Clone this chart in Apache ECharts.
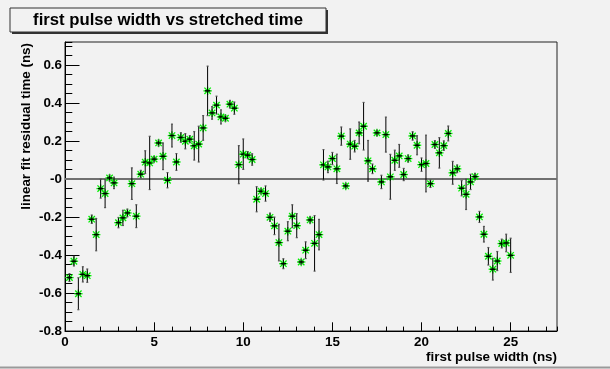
<!DOCTYPE html>
<html><head><meta charset="utf-8">
<script src="https://cdn.jsdelivr.net/npm/echarts@6/dist/echarts.min.js"></script>
<style>html,body{margin:0;padding:0;background:#f2f2f2;}#c{width:610px;height:369px;}</style>
</head><body><div id="c"></div>
<script>
const titleText = 'first pulse width vs stretched time';
const xTitle = 'first pulse width (ns)';
const yTitle = 'linear fit residual time (ns)';
const xTickLabels = ['0', '5', '10', '15', '20', '25'];
const yTickLabels = ['-0.8', '-0.6', '-0.4', '-0.2', '-0', '0.2', '0.4', '0.6'];

const xVals = [0.25,0.5,0.75,1.0,1.25,1.5,1.75,2.0,2.25,2.5,2.75,3.0,3.25,3.5,3.75,4.0,4.25,4.5,4.75,5.0,
  5.25,5.5,5.75,6.0,6.25,6.5,6.75,7.0,7.25,7.5,7.75,8.0,8.25,8.5,8.75,9.0,9.25,9.5,9.75,10.0,
  10.25,10.5,10.75,11.0,11.25,11.5,11.75,12.0,12.25,12.5,12.75,13.0,13.25,13.5,13.75,14.0,14.25,14.5,14.75,15.0,
  15.25,15.5,15.75,16.0,16.25,16.5,16.75,17.0,17.25,17.5,17.75,18.0,18.25,18.5,18.75,19.0,19.25,19.5,19.75,20.0,
  20.25,20.5,20.75,21.0,21.25,21.5,21.75,22.0,22.25,22.5,22.75,23.0,23.25,23.5,23.75,24.0,24.25,24.5,24.75,25.0];
const yVals = [-0.519,-0.433,-0.604,-0.502,-0.509,-0.212,-0.293,-0.051,-0.077,0.005,-0.021,-0.230,-0.205,-0.179,-0.025,-0.196,0.025,0.088,0.084,0.104,
  0.189,0.119,-0.007,0.228,0.089,0.218,0.198,0.209,0.174,0.183,0.268,0.463,0.347,0.388,0.326,0.319,0.393,0.372,0.075,0.130,
  0.125,0.102,-0.107,-0.065,-0.077,-0.202,-0.247,-0.335,-0.446,-0.275,-0.196,-0.246,-0.437,-0.375,-0.216,-0.339,-0.293,0.074,0.063,0.107,
  0.053,0.225,-0.037,0.183,0.172,0.242,0.277,0.095,0.053,0.242,-0.016,0.233,0.011,0.098,0.121,0.023,0.107,0.226,0.177,0.075,
  0.081,-0.025,0.181,0.137,0.175,0.239,0.032,0.053,-0.049,-0.081,-0.016,0.012,-0.200,-0.291,-0.407,-0.475,-0.432,-0.340,-0.337,-0.402];
const yErrs = [0.020,0.025,0.084,0.040,0.035,0.022,0.085,0.050,0.074,0.015,0.030,0.027,0.040,0.020,0.083,0.060,0.020,0.060,0.140,0.013,
  0.015,0.070,0.040,0.060,0.044,0.025,0.040,0.018,0.075,0.094,0.065,0.130,0.033,0.047,0.037,0.015,0.020,0.032,0.100,0.080,
  0.018,0.030,0.066,0.013,0.040,0.022,0.046,0.096,0.026,0.050,0.060,0.063,0.012,0.044,0.016,0.146,0.080,0.080,0.030,0.032,
  0.077,0.048,0.013,0.080,0.030,0.057,0.125,0.107,0.025,0.014,0.035,0.092,0.118,0.053,0.060,0.032,0.018,0.022,0.050,0.035,
  0.149,0.020,0.020,0.080,0.025,0.039,0.060,0.020,0.040,0.080,0.040,0.016,0.029,0.041,0.046,0.057,0.050,0.023,0.046,0.090];
const xErr = 0.15;
const xRange = [0, 27.6];
const yRange = [-0.8, 0.72];
const zeroLine = [[0, 0], [27.6, 0]];

const FONT = 'Liberation Sans, Arial, Helvetica, sans-serif';
const chart = echarts.init(document.getElementById('c'), null, {renderer: 'canvas'});

function fmtY(v) {
  const i = Math.round((v - yRange[0]) / 0.2);
  return yTickLabels[i] !== undefined ? yTickLabels[i] : '';
}
function fmtX(v) {
  const i = Math.round(v / 5);
  return xTickLabels[i] !== undefined ? xTickLabels[i] : '';
}

const option = {
  animation: false,
  backgroundColor: '#f2f2f2',
  grid: {left: 65, top: 42, width: 492, height: 289, show: true, borderColor: '#222', borderWidth: 1, backgroundColor: '#f2f2f2'},
  xAxis: [
    {type: 'value', min: xRange[0], max: xRange[1], interval: 5, position: 'bottom',
     axisLine: {show: true, onZero: false, lineStyle: {color: '#000', width: 1}},
     axisTick: {show: true, inside: true, length: 8.7, lineStyle: {color: '#000'}},
     splitLine: {show: false},
     axisLabel: {show: true, margin: 5, showMaxLabel: false, color: '#000', fontFamily: FONT, fontWeight: 'bold', fontSize: 13.4, formatter: fmtX}},
    {type: 'value', min: xRange[0], max: xRange[1], interval: 1, position: 'bottom',
     axisLine: {show: false, onZero: false}, axisTick: {show: true, inside: true, length: 4.4, lineStyle: {color: '#000'}},
     splitLine: {show: false}, axisLabel: {show: false}}
  ],
  yAxis: [
    {type: 'value', min: yRange[0], max: yRange[1], interval: 0.2, position: 'left',
     axisLine: {show: true, onZero: false, lineStyle: {color: '#000', width: 1}},
     axisTick: {show: true, inside: true, length: 14.5, lineStyle: {color: '#000'}},
     splitLine: {show: false},
     axisLabel: {show: true, margin: 3, showMaxLabel: false, color: '#000', fontFamily: FONT, fontWeight: 'bold', fontSize: 13.4, formatter: fmtY}},
    {type: 'value', min: yRange[0], max: yRange[1], interval: 0.05, position: 'left',
     axisLine: {show: false, onZero: false}, axisTick: {show: true, inside: true, length: 7.3, lineStyle: {color: '#000'}},
     splitLine: {show: false}, axisLabel: {show: false}}
  ],
  series: [
    {type: 'line', xAxisIndex: 0, yAxisIndex: 0, data: zeroLine, symbol: 'none', silent: true,
     lineStyle: {color: '#707070', width: 2}, z: 1},
    {type: 'custom', xAxisIndex: 0, yAxisIndex: 0, z: 3,
     data: xVals.map((x, i) => [x, yVals[i], yErrs[i]]),
     encode: {x: 0, y: 1},
     renderItem: function (params, api) {
       const x = api.value(0), y = api.value(1), e = api.value(2);
       const c = api.coord([x, y]);
       const top = api.coord([x, y + e]);
       const bot = api.coord([x, y - e]);
       const l = api.coord([x - xErr, y]);
       const r = api.coord([x + xErr, y]);
       const s = 4.2, d = 3.2;
       const g = {stroke: '#00ee00', lineWidth: 1.3};
       const k = {stroke: '#000', lineWidth: 1};
       const cap = {stroke: '#555', lineWidth: 1.2};
       return {type: 'group', children: [
         {type: 'line', shape: {x1: c[0]-d, y1: c[1]-d, x2: c[0]+d, y2: c[1]+d}, style: g},
         {type: 'line', shape: {x1: c[0]-d, y1: c[1]+d, x2: c[0]+d, y2: c[1]-d}, style: g},
         {type: 'line', shape: {x1: c[0]-s, y1: c[1], x2: c[0]+s, y2: c[1]}, style: g},
         {type: 'line', shape: {x1: c[0], y1: c[1]-s, x2: c[0], y2: c[1]+s}, style: g},
         {type: 'line', shape: {x1: c[0], y1: top[1], x2: c[0], y2: bot[1]}, style: k},
         {type: 'line', shape: {x1: l[0], y1: c[1], x2: r[0], y2: c[1]}, style: {stroke: '#000', lineWidth: 1.5}},
         {type: 'line', shape: {x1: c[0]-1, y1: top[1], x2: c[0]+1, y2: top[1]}, style: cap},
         {type: 'line', shape: {x1: c[0]-1, y1: bot[1], x2: c[0]+1, y2: bot[1]}, style: cap}
       ]};
     }}
  ],
  graphic: [
    {type: 'rect', shape: {x: 12, y: 10, width: 316, height: 24}, style: {fill: '#333'}, z: 10},
    {type: 'rect', shape: {x: 10, y: 8, width: 316, height: 24}, style: {fill: '#f2f2f2', stroke: '#333', lineWidth: 1}, z: 11},
    {type: 'text', x: 168, y: 20.5, z: 12, style: {text: titleText, fill: '#000', font: 'bold 16.7px ' + FONT, align: 'center', verticalAlign: 'middle'}},
    {type: 'text', x: 557, y: 357, z: 12, style: {text: xTitle, fill: '#000', font: 'bold 13.4px ' + FONT, align: 'right', verticalAlign: 'middle'}},
    {type: 'text', x: 26, y: 43, rotation: Math.PI / 2, z: 12, style: {text: yTitle, fill: '#000', font: 'bold 13.4px ' + FONT, align: 'right', verticalAlign: 'middle'}},
    {type: 'line', shape: {x1: 0, y1: 367.5, x2: 610, y2: 367.5}, style: {stroke: '#9a9a9a', lineWidth: 2}, z: 12}
  ]
};
chart.setOption(option);
</script></body></html>
